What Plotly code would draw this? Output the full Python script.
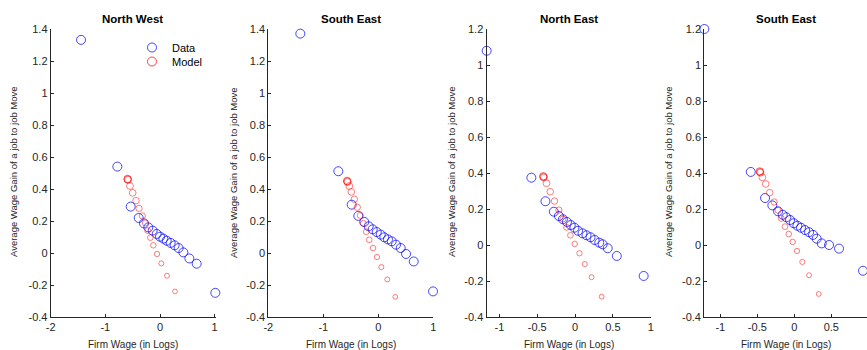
import plotly.graph_objects as go
import numpy as np

titles = ["North West", "South East", "North East", "South East"]

nw_data_x = [-1.445, -0.781, -0.536, -0.390, -0.293, -0.214, -0.134, -0.060, 0.000, 0.061, 0.122, 0.195, 0.268, 0.341, 0.427, 0.537, 0.671, 1.012]
nw_data_y = [1.332, 0.540, 0.290, 0.219, 0.185, 0.160, 0.140, 0.119, 0.102, 0.090, 0.077, 0.063, 0.048, 0.031, 0.004, -0.034, -0.067, -0.249]
nw_model_x = [-0.595, -0.591, -0.586, -0.549, -0.500, -0.439, -0.384, -0.323, -0.268, -0.226, -0.177, -0.122, -0.055, 0.024, 0.128, 0.274]
nw_model_y = [0.463, 0.461, 0.457, 0.419, 0.376, 0.327, 0.279, 0.232, 0.188, 0.140, 0.096, 0.048, -0.006, -0.065, -0.142, -0.240]

se_data_x = [-1.418, -0.727, -0.484, -0.364, -0.255, -0.175, -0.102, -0.029, 0.044, 0.109, 0.176, 0.244, 0.322, 0.407, 0.504, 0.644, 0.995]
se_data_y = [1.371, 0.511, 0.302, 0.232, 0.194, 0.167, 0.148, 0.131, 0.115, 0.098, 0.085, 0.073, 0.052, 0.031, -0.006, -0.053, -0.240]
se_model_x = [-0.568, -0.564, -0.559, -0.527, -0.491, -0.436, -0.382, -0.327, -0.273, -0.218, -0.164, -0.096, -0.024, 0.055, 0.164, 0.309]
se_model_y = [0.451, 0.448, 0.444, 0.419, 0.382, 0.336, 0.286, 0.235, 0.185, 0.133, 0.083, 0.031, -0.025, -0.088, -0.165, -0.274]

ne_data_x = [-1.168, -0.577, -0.391, -0.280, -0.213, -0.160, -0.107, -0.057, -0.008, 0.040, 0.099, 0.152, 0.205, 0.259, 0.320, 0.365, 0.432, 0.552, 0.907]
ne_data_y = [1.079, 0.374, 0.243, 0.185, 0.161, 0.143, 0.128, 0.111, 0.096, 0.079, 0.065, 0.054, 0.043, 0.028, 0.013, 0.004, -0.018, -0.061, -0.172]
ne_model_x = [-0.421, -0.417, -0.412, -0.377, -0.328, -0.271, -0.213, -0.160, -0.111, -0.061, -0.004, 0.059, 0.129, 0.218, 0.352]
ne_model_y = [0.382, 0.379, 0.375, 0.343, 0.296, 0.244, 0.194, 0.144, 0.098, 0.054, 0.006, -0.046, -0.106, -0.179, -0.287]

se2_data_x = [-1.216, -0.589, -0.396, -0.297, -0.220, -0.157, -0.108, -0.058, -0.008, 0.041, 0.090, 0.145, 0.199, 0.253, 0.302, 0.370, 0.469, 0.604, 0.928]
se2_data_y = [1.200, 0.406, 0.261, 0.220, 0.187, 0.168, 0.154, 0.139, 0.121, 0.107, 0.096, 0.083, 0.071, 0.056, 0.035, 0.009, 0.000, -0.020, -0.143]
se2_model_x = [-0.468, -0.464, -0.459, -0.432, -0.387, -0.333, -0.274, -0.220, -0.176, -0.126, -0.076, -0.022, 0.036, 0.108, 0.199, 0.330]
se2_model_y = [0.409, 0.406, 0.402, 0.376, 0.339, 0.291, 0.239, 0.193, 0.148, 0.102, 0.061, 0.017, -0.033, -0.094, -0.168, -0.272]

x_ranges = [[-2, 1.03], [-2, 1.0], [-1.17, 1], [-1.218, 0.982]]
y_ranges = [[-0.4, 1.4], [-0.4, 1.4], [-0.4, 1.2], [-0.4, 1.2]]
x_ticks = [[-2, -1, 0, 1], [-2, -1, 0, 1], [-1, -0.5, 0, 0.5, 1], [-1, -0.5, 0, 0.5, 1]]
y_ticks = [[-0.4, -0.2, 0, 0.2, 0.4, 0.6, 0.8, 1, 1.2, 1.4]] * 2 + [[-0.4, -0.2, 0, 0.2, 0.4, 0.6, 0.8, 1, 1.2]] * 2

panels = [
    (nw_data_x, nw_data_y, nw_model_x, nw_model_y),
    (se_data_x, se_data_y, se_model_x, se_model_y),
    (ne_data_x, ne_data_y, ne_model_x, ne_model_y),
    (se2_data_x, se2_data_y, se2_model_x, se2_model_y),
]

W, H = 867, 350
x_px = [(50.7, 216.3), (268.3, 433.3), (486.5, 650.7), (704.2, 867.0)]
title_cx = [132.7, 350.8, 568.6, 786.3]
y_px = (29, 317)
ytitle_px = [13, 233, 451, 668]

FONT = "Liberation Sans, Arial, sans-serif"
AX = "#262626"
BLUE = "rgba(0,0,255,0.72)"
RED = "rgba(255,0,0,0.72)"

fig = go.Figure()
layout = dict(
    width=W, height=H, margin=dict(l=0, r=0, t=0, b=0, pad=0, autoexpand=False),
    plot_bgcolor="white", paper_bgcolor="white",
    font=dict(family=FONT, size=11, color=AX),
    showlegend=True,
    legend=dict(x=132 / W, y=1 - 33 / H, xanchor="left", yanchor="top",
                bgcolor="rgba(255,255,255,0)", font=dict(size=11, color="black"),
                itemsizing="trace", borderwidth=0),
    legend2=dict(x=132 / W, y=1 - 47 / H, xanchor="left", yanchor="top",
                 bgcolor="rgba(255,255,255,0)", font=dict(size=11, color="black"),
                 itemsizing="trace", borderwidth=0),
)
annotations = []
for i, (dx, dy, mx, my) in enumerate(panels):
    sfx = "" if i == 0 else str(i + 1)
    xa, ya = "x" + sfx, "y" + sfx
    n = len(mx)
    fig.add_trace(go.Scatter(
        x=dx, y=dy, mode="markers", name="Data", xaxis=xa, yaxis=ya,
        showlegend=(i == 0), legend="legend", cliponaxis=False,
        marker=dict(symbol="circle-open", size=9, color=BLUE, line=dict(width=1, color=BLUE))))
    fig.add_trace(go.Scatter(
        x=mx, y=my, mode="markers", name="Model", xaxis=xa, yaxis=ya,
        showlegend=False, cliponaxis=False,
        marker=dict(symbol="circle-open", size=list(np.linspace(7.4, 4.8, n)), color=RED,
                    line=dict(width=1, color=RED))))
    x0, x1 = x_px[i]
    common = dict(showgrid=False, zeroline=False, showline=True, linecolor=AX, linewidth=1,
                  ticks="inside", ticklen=3, tickcolor=AX, tickfont=dict(size=11, color=AX),
                  automargin=False, fixedrange=True)
    layout["xaxis" + sfx] = dict(domain=[x0 / W, x1 / W], range=x_ranges[i], anchor=ya,
                                 tickvals=x_ticks[i], ticktext=[f"{v:g}" for v in x_ticks[i]], **common)
    layout["yaxis" + sfx] = dict(domain=[1 - y_px[1] / H, 1 - y_px[0] / H], range=y_ranges[i], anchor=xa,
                                 tickvals=y_ticks[i], ticktext=[f"{v:g}" for v in y_ticks[i]], **common)
    cx = title_cx[i]
    annotations.append(dict(text="<b>" + titles[i] + "</b>", x=cx / W, y=1 - 19 / H, xref="paper", yref="paper",
                            showarrow=False, xanchor="center", yanchor="middle",
                            font=dict(size=11.5, color="black", family=FONT)))
    annotations.append(dict(text="Firm Wage (in Logs)", x=cx / W, y=1 - 344 / H, xref="paper", yref="paper",
                            showarrow=False, xanchor="center", yanchor="middle",
                            font=dict(size=10, color=AX, family=FONT)))
    annotations.append(dict(text="Average Wage Gain of a job to job Move", x=ytitle_px[i] / W, y=1 - 172 / H,
                            xref="paper", yref="paper", showarrow=False, textangle=-90,
                            xanchor="center", yanchor="middle", font=dict(size=9.5, color=AX, family=FONT)))

# legend entry for the model series (uniform symbol size as in the reference legend)
fig.add_trace(go.Scatter(x=[None], y=[None], mode="markers", name="Model", legend="legend2",
                         marker=dict(symbol="circle-open", size=9, color=RED, line=dict(width=1, color=RED))))

layout["annotations"] = annotations
fig.update_layout(**layout)
fig.write_html("out.html")
